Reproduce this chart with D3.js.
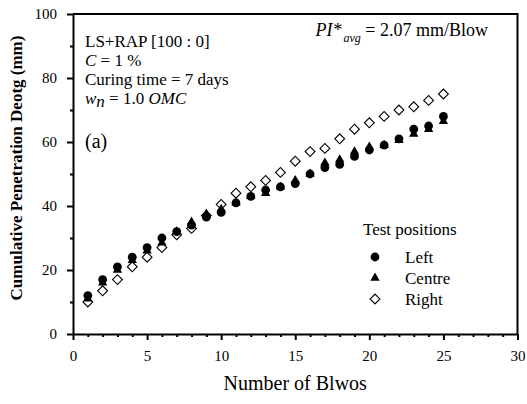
<!DOCTYPE html>
<html lang="en">
<head>
<meta charset="UTF-8">
<title>Cumulative Penetration vs Number of Blows</title>
<script src="https://d3js.org/d3.v7.min.js"></script>
<style>
    body { margin: 0; background: #fff; }
    svg, svg text { font-family: "Liberation Serif", "DejaVu Serif", "Times New Roman", Times, serif; }
    .axis path, .axis line { stroke: #000; stroke-width: 2; }
    .axis text { font-size: 15px; fill: #000; }
</style>
</head>
<body>
<svg id="chart"></svg>
<script>
    // data
    const blows = d3.range(1, 26);
    const leftPos = [12, 17, 21, 24, 27, 30, 32, 34, 36.5, 38, 41, 43, 45, 46, 47, 50, 52, 53, 55.5, 57.5, 59, 61, 64, 65, 68];
    const centrePos = [11, 16, 20, 23, 26, 28.5, 32, 35, 37.5, 39, 41, 43, 44, 46, 48, 50, 53.5, 54.5, 57, 58.5, 59, 60.5, 62.5, 64, 66.5];
    const rightPos = [10, 13.5, 17, 21, 24, 27, 31, 33, 37, 40.5, 44, 46, 48, 50.5, 54, 57, 58, 61, 64, 66, 68, 70, 71, 73, 75];
    const xTicks = [0, 5, 10, 15, 20, 25, 30];
    const yTicks = [0, 20, 40, 60, 80, 100];

    const serif = '"Liberation Serif", "DejaVu Serif", serif';
    const W = 527, H = 404;
    const margin = {top: 14, right: 9.5, bottom: 70, left: 73};
    const w = W - margin.left - margin.right;
    const h = H - margin.top - margin.bottom;

    const svg = d3.select("#chart").attr("width", W).attr("height", H);
    const g = svg.append("g").attr("transform", `translate(${margin.left},${margin.top})`);

    const x = d3.scaleLinear().domain([0, 30]).range([0, w]);
    const y = d3.scaleLinear().domain([0, 100]).range([h, 0]);

    // minor ticks first
    g.append("g").attr("class", "axis")
        .attr("transform", `translate(0,${h})`)
        .call(d3.axisBottom(x).tickValues(d3.range(0, 31).filter(d => d % 5)).tickSize(3).tickFormat(""))
        .call(a => a.select(".domain").remove());
    g.append("g").attr("class", "axis")
        .call(d3.axisLeft(y).tickValues([10, 30, 50, 70, 90]).tickSize(3).tickFormat(""))
        .call(a => a.select(".domain").remove());

    // main axes
    g.append("g").attr("class", "axis")
        .attr("transform", `translate(0,${h})`)
        .call(d3.axisBottom(x).tickValues(xTicks).tickSize(6).tickSizeOuter(0).tickPadding(10))
        .attr("font-family", serif);
    g.append("g").attr("class", "axis")
        .call(d3.axisLeft(y).tickValues(yTicks).tickSize(6).tickSizeOuter(0).tickPadding(10))
        .attr("font-family", serif);

    // box top + right
    g.append("path")
        .attr("d", `M0,0H${w}V${h}`)
        .attr("fill", "none").attr("stroke", "#000").attr("stroke-width", 2);

    // markers - diamonds underneath
    const diamond = d3.symbol().type(d3.symbolSquare).size(48);
    g.append("g").selectAll("path")
        .data(rightPos)
        .join("path")
        .attr("d", diamond)
        .attr("transform", (d, i) => `translate(${x(blows[i])},${y(d)}) rotate(45)`)
        .attr("fill", "#fff").attr("stroke", "#000").attr("stroke-width", 1.1);

    const tri = d3.symbol().type(d3.symbolTriangle).size(38);
    g.append("g").selectAll("path")
        .data(centrePos)
        .join("path")
        .attr("d", tri)
        .attr("transform", (d, i) => `translate(${x(blows[i])},${y(d)})`)
        .attr("fill", "#000");

    g.append("g").selectAll("circle")
        .data(leftPos)
        .join("circle")
        .attr("cx", (d, i) => x(blows[i]))
        .attr("cy", d => y(d))
        .attr("r", 4.4)
        .attr("fill", "#000");

    // axis titles
    svg.append("text")
        .attr("x", margin.left + w / 2).attr("y", 390)
        .attr("text-anchor", "middle")
        .attr("font-family", serif)
        .style("font-size", "20px")
        .text("Number of Blwos");

    svg.append("text")
        .attr("transform", `translate(22,${margin.top + h / 2 - 6}) rotate(-90)`)
        .attr("text-anchor", "middle")
        .attr("font-family", serif)
        .style("font-size", "17px").style("font-weight", "bold")
        .text("Cumulative Penetration Deotg (mm)");

    // annotations
    const note = svg.append("text").attr("font-family", serif).style("font-size", "17px");
    note.append("tspan").attr("x", 85).attr("y", 47).text("LS+RAP [100 : 0]");
    const l2 = note.append("tspan").attr("x", 85).attr("y", 66);
    l2.append("tspan").style("font-style", "italic").text("C");
    l2.append("tspan").text(" = 1 %");
    note.append("tspan").attr("x", 85).attr("y", 85).text("Curing time = 7 days");
    const l4 = note.append("tspan").attr("x", 85).attr("y", 104);
    l4.append("tspan").style("font-style", "italic").text("w");
    l4.append("tspan").style("font-style", "italic").attr("dy", 3).text("n");
    l4.append("tspan").attr("dy", -3).text(" = 1.0 ");
    l4.append("tspan").style("font-style", "italic").text("OMC");

    svg.append("text").attr("x", 85).attr("y", 148)
        .attr("font-family", serif)
        .style("font-size", "20px").text("(a)");

    const pi = svg.append("text").attr("x", 488).attr("y", 36)
        .attr("font-family", serif)
        .attr("text-anchor", "end").style("font-size", "18px");
    pi.append("tspan").style("font-style", "italic").text("PI*");
    pi.append("tspan").style("font-style", "italic").style("font-size", "12px").attr("dx", 2).attr("dy", 6).text("avg");
    pi.append("tspan").attr("dy", -6).text(" = 2.07 mm/Blow");

    // legend
    const leg = svg.append("g").attr("font-family", serif);
    leg.append("text").attr("x", 363).attr("y", 235).style("font-size", "17px").text("Test positions");
    const items = [
        {label: "Left", y: 257},
        {label: "Centre", y: 278},
        {label: "Right", y: 299}
    ];
    leg.append("circle").attr("cx", 375).attr("cy", items[0].y).attr("r", 4.4).attr("fill", "#000");
    leg.append("path").attr("d", tri).attr("transform", `translate(375,${items[1].y})`).attr("fill", "#000");
    leg.append("path").attr("d", diamond).attr("transform", `translate(375,${items[2].y}) rotate(45)`)
        .attr("fill", "#fff").attr("stroke", "#000").attr("stroke-width", 1.1);
    leg.selectAll("text.item")
        .data(items)
        .join("text")
        .attr("class", "item")
        .attr("x", 405).attr("y", d => d.y + 6)
        .style("font-size", "17px")
        .text(d => d.label);
</script>
</body>
</html>
